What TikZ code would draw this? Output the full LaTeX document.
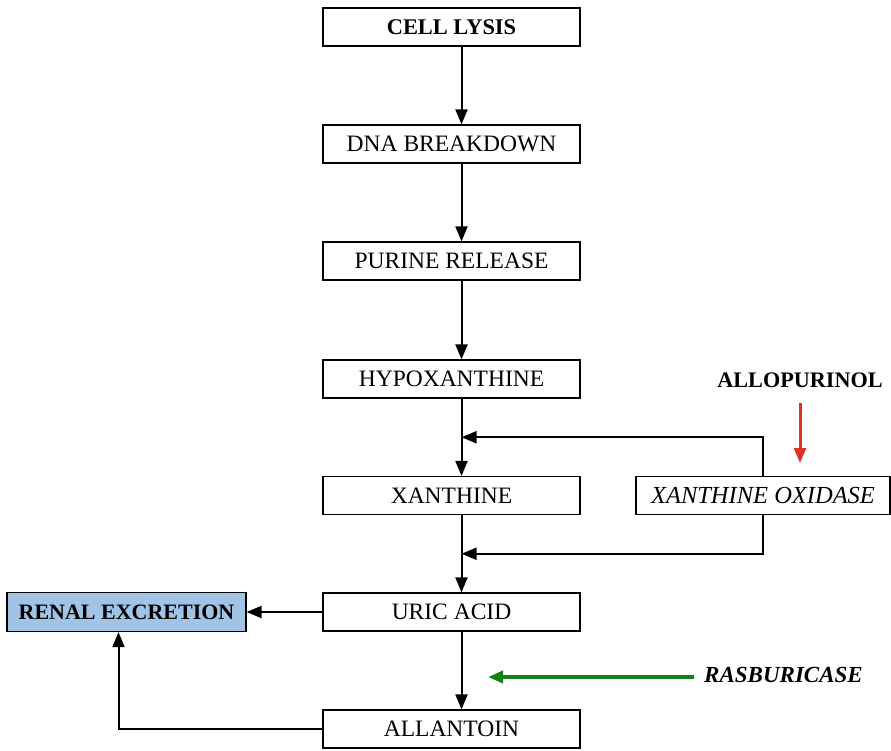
\documentclass[tikz,border=0pt]{standalone}
\usepackage{fontspec}
\setmainfont{Liberation Serif}
\usepackage{xcolor}
\definecolor{renalblue}{RGB}{160,195,230}
\definecolor{inhibred}{RGB}{222,52,40}
\definecolor{enzgreen}{RGB}{24,128,24}
\usepackage{tikz}
\usetikzlibrary{calc}
\usetikzlibrary{arrows.meta}
\newcommand{\widthstage}{257pt}
\newcommand{\heightstage}{38pt}
\newcommand{\axisshift}{10pt}
\tikzset{
    common/.style={draw, rectangle, line width=1.2pt, inner sep=0pt, font=\fontsize{23.5}{27}\selectfont},
    stage/.style={common, minimum width=\widthstage, minimum height=\heightstage},
    enzyme/.style={stage, minimum width=254pt, font=\fontsize{24.5}{28}\selectfont\itshape},
    sink/.style={common, fill=renalblue, minimum width=239pt, minimum height=39pt, font=\fontsize{22}{26}\selectfont\bfseries},
    drug/.style={inner sep=2pt, font=\fontsize{22.2}{26}\selectfont\bfseries},
    flow/.style={line width=2pt, -{Triangle[length=15pt, width=12pt]}},
    inhib/.style={flow, inhibred, line width=3pt},
    degrade/.style={flow, enzgreen, line width=4pt}
}

\begin{document}
\begin{tikzpicture}[x=1pt, y=-1pt]
      \useasboundingbox (0,0) rectangle (891,750);

      % main pathway
      \node[stage, font=\fontsize{22.4}{26}\selectfont\bfseries] (lysis) at (451.5,27) {CELL LYSIS};
      \node[stage] (dna) at (451.5,144) {DNA BREAKDOWN};
      \node[stage] (purine) at (451.5,261) {PURINE RELEASE};
      \node[stage] (hypo) at (451.5,379) {HYPOXANTHINE};
      \node[stage] (xan) at (451.5,495.5) {XANTHINE};
      \node[stage] (uric) at (451.5,612) {URIC ACID};
      \node[stage] (allan) at (451.5,729) {ALLANTOIN};

      % side branches
      \node[enzyme] (xo) at (763,495.5) {XANTHINE OXIDASE};
      \node[sink] (renal) at (126.5,612) {RENAL EXCRETION};
      \node[drug] (allo) at (800,380) {ALLOPURINOL};
      \node[drug, font=\fontsize{23}{27}\selectfont\bfseries\itshape] (rasb) at (783.5,675) {RASBURICASE};
      \coordinate (alloTip) at (800,463);
      \coordinate (rasbTip) at (488,677);

      \foreach \from/\to in {lysis/dna, dna/purine, purine/hypo, hypo/xan, xan/uric, uric/allan}
          \draw[flow] ([xshift=\axisshift]\from.south) -- ([xshift=\axisshift]\to.north);

      \draw[flow] (xo.north) |- ($(hypo.south)!.5!(xan.north) + (\axisshift,0)$);
      \draw[flow] (xo.south) |- ($(xan.south)!.5!(uric.north) + (\axisshift,0)$);

      \draw[flow] (uric.west) -- (uric.west -| renal.east);
      \draw[flow] (allan.west) -| ([xshift=-8pt]renal.south);

      \draw[inhib, shorten <=13pt] (allo.south) -- (alloTip);
      \draw[degrade, shorten <=8pt] (rasb.west |- rasbTip) -- (rasbTip);
\end{tikzpicture}
\end{document}
